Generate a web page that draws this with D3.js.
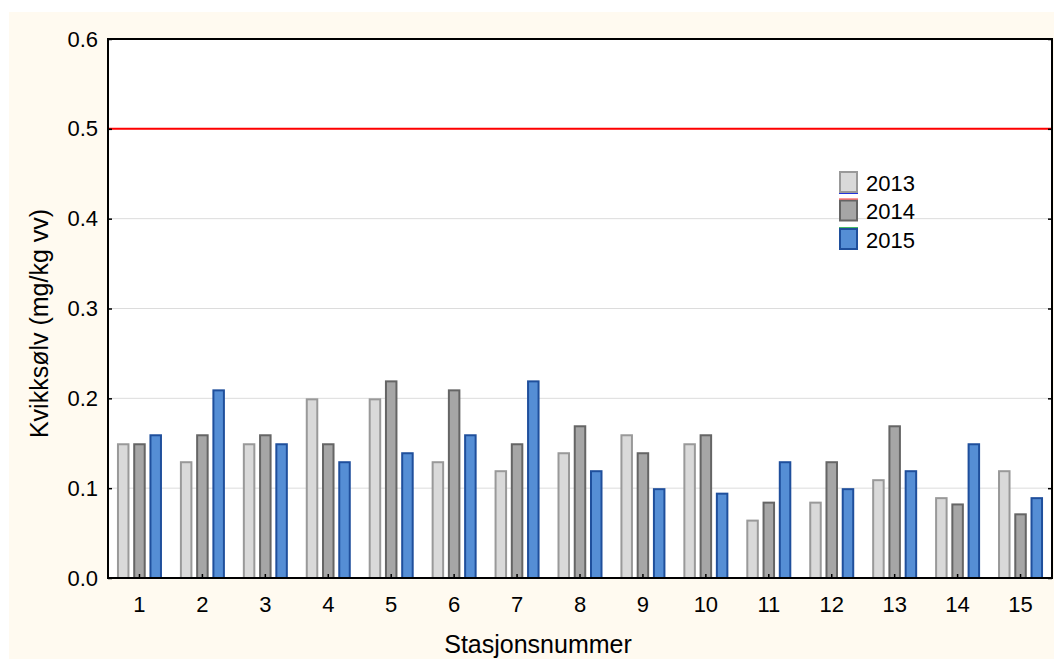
<!DOCTYPE html>
<html>
<head>
<meta charset="utf-8">
<script src="https://cdn.jsdelivr.net/npm/d3@7"></script>
<style>
  html, body { margin: 0; padding: 0; background: #ffffff; }
  svg { display: block; }
  text { font-family: "Liberation Sans", Arial, sans-serif; fill: #000; }
</style>
</head>
<body>
<svg id="chart" width="1054" height="659"></svg>
<script>
// Stations along the x axis
const stations = ["1","2","3","4","5","6","7","8","9","10","11","12","13","14","15"];
// Mercury (mg/kg ww) per station and year
const y2013 = [0.15, 0.13, 0.15, 0.20, 0.20, 0.13, 0.12, 0.14, 0.16, 0.15, 0.065, 0.085, 0.11, 0.09, 0.12];
const y2014 = [0.15, 0.16, 0.16, 0.15, 0.22, 0.21, 0.15, 0.17, 0.14, 0.16, 0.085, 0.13, 0.17, 0.083, 0.072];
const y2015 = [0.16, 0.21, 0.15, 0.13, 0.14, 0.16, 0.22, 0.12, 0.10, 0.095, 0.13, 0.10, 0.12, 0.15, 0.09];
const years = ["2013", "2014", "2015"];
const yTicks = [0.0, 0.1, 0.2, 0.3, 0.4, 0.5, 0.6];
const limitValue = 0.5;

const seriesValues = { "2013": y2013, "2014": y2014, "2015": y2015 };
const fills   = { "2013": "#d9d9d9", "2014": "#a6a6a6", "2015": "#558ed5" };
const strokes = { "2013": "#999999", "2014": "#656565", "2015": "#1f4f9c" };
const legendLines = { "2013": "#2233dd", "2014": "#ff3333", "2015": "#44bb66" };

const svg = d3.select("#chart");
const W = 1054, H = 659;
const plot = { left: 108, top: 39, right: 1052, bottom: 578 };

// page background
svg.append("rect").attr("x", 9).attr("y", 12).attr("width", W - 9).attr("height", H - 12)
  .attr("fill", "#fffaf0");
svg.append("rect").attr("x", plot.left).attr("y", plot.top)
  .attr("width", plot.right - plot.left).attr("height", plot.bottom - plot.top)
  .attr("fill", "#ffffff");

const x = d3.scaleBand().domain(stations).range([plot.left, plot.right]).padding(0);
const xSub = d3.scaleBand().domain(years).range([-22.5, 22.5]).paddingInner(0.23).paddingOuter(0);
const y = d3.scaleLinear().domain([0, 0.6]).range([plot.bottom, plot.top]);

// grid lines
svg.append("g").selectAll("line").data(yTicks.filter(t => t > 0 && t < 0.6)).join("line")
  .attr("x1", plot.left).attr("x2", plot.right)
  .attr("y1", d => y(d)).attr("y2", d => y(d))
  .attr("stroke", "#dcdcdc").attr("stroke-width", 1);

// bars
const groups = svg.append("g").selectAll("g").data(stations).join("g")
  .attr("transform", d => `translate(${x(d) + x.bandwidth() / 2},0)`);
groups.selectAll("rect").data((d, i) => years.map(yr => ({ yr, v: seriesValues[yr][i] }))).join("rect")
  .attr("x", d => xSub(d.yr) + 1)
  .attr("width", xSub.bandwidth() - 2)
  .attr("y", d => y(d.v) + 1)
  .attr("height", d => y(0) - y(d.v) - 1)
  .attr("fill", d => fills[d.yr])
  .attr("stroke", d => strokes[d.yr])
  .attr("stroke-width", 2);

// limit line
svg.append("line")
  .attr("x1", plot.left).attr("x2", plot.right)
  .attr("y1", y(limitValue)).attr("y2", y(limitValue))
  .attr("stroke", "#ff0000").attr("stroke-width", 2);

// axes
const fmt = d3.format(".1f");
const yAxisL = svg.append("g").attr("transform", `translate(${plot.left},0)`)
  .call(d3.axisLeft(y).tickValues(yTicks).tickFormat(fmt).tickSizeInner(-4).tickSizeOuter(0).tickPadding(10));
const yAxisR = svg.append("g").attr("transform", `translate(${plot.right},0)`)
  .call(d3.axisRight(y).tickValues(yTicks).tickFormat("").tickSizeInner(-4).tickSizeOuter(0));
const xAxis = svg.append("g").attr("transform", `translate(0,${plot.bottom})`)
  .call(d3.axisBottom(x).tickSizeInner(-4).tickSizeOuter(0).tickPadding(18));
[yAxisL, yAxisR, xAxis].forEach(g => {
  g.select(".domain").remove();
  g.selectAll(".tick line").attr("stroke", "#000").attr("stroke-width", 1.5);
  g.selectAll("text").attr("font-size", 22).attr("font-family", "'Liberation Sans', Arial, sans-serif").attr("fill", "#000");
});

// frame
svg.append("rect").attr("x", plot.left).attr("y", plot.top)
  .attr("width", plot.right - plot.left).attr("height", plot.bottom - plot.top)
  .attr("fill", "none").attr("stroke", "#000").attr("stroke-width", 2);

// axis titles
svg.append("text").attr("x", 538).attr("y", 653)
  .attr("text-anchor", "middle").attr("font-size", 25).text("Stasjonsnummer");
svg.append("text").attr("transform", `translate(48,${(plot.top + plot.bottom) / 2 + 15}) rotate(-90)`)
  .attr("text-anchor", "middle").attr("font-size", 25).text("Kvikksølv (mg/kg vv)");

// legend
const legend = svg.append("g").attr("transform", "translate(839,171)");
const item = legend.selectAll("g").data(years).join("g")
  .attr("transform", (d, i) => `translate(0,${i * 28.5})`);
item.append("rect").attr("x", 1).attr("y", 1).attr("width", 17).attr("height", 20)
  .attr("fill", d => fills[d]).attr("stroke", d => strokes[d]).attr("stroke-width", 2);
item.append("line").attr("x1", 0).attr("x2", 19)
  .attr("y1", (d, i) => i === 0 ? 22.5 : -0.5).attr("y2", (d, i) => i === 0 ? 22.5 : -0.5)
  .attr("stroke", d => legendLines[d]).attr("stroke-width", 1);
item.append("text").attr("x", 27).attr("y", 19.5).attr("font-size", 22).text(d => d);
</script>
</body>
</html>
